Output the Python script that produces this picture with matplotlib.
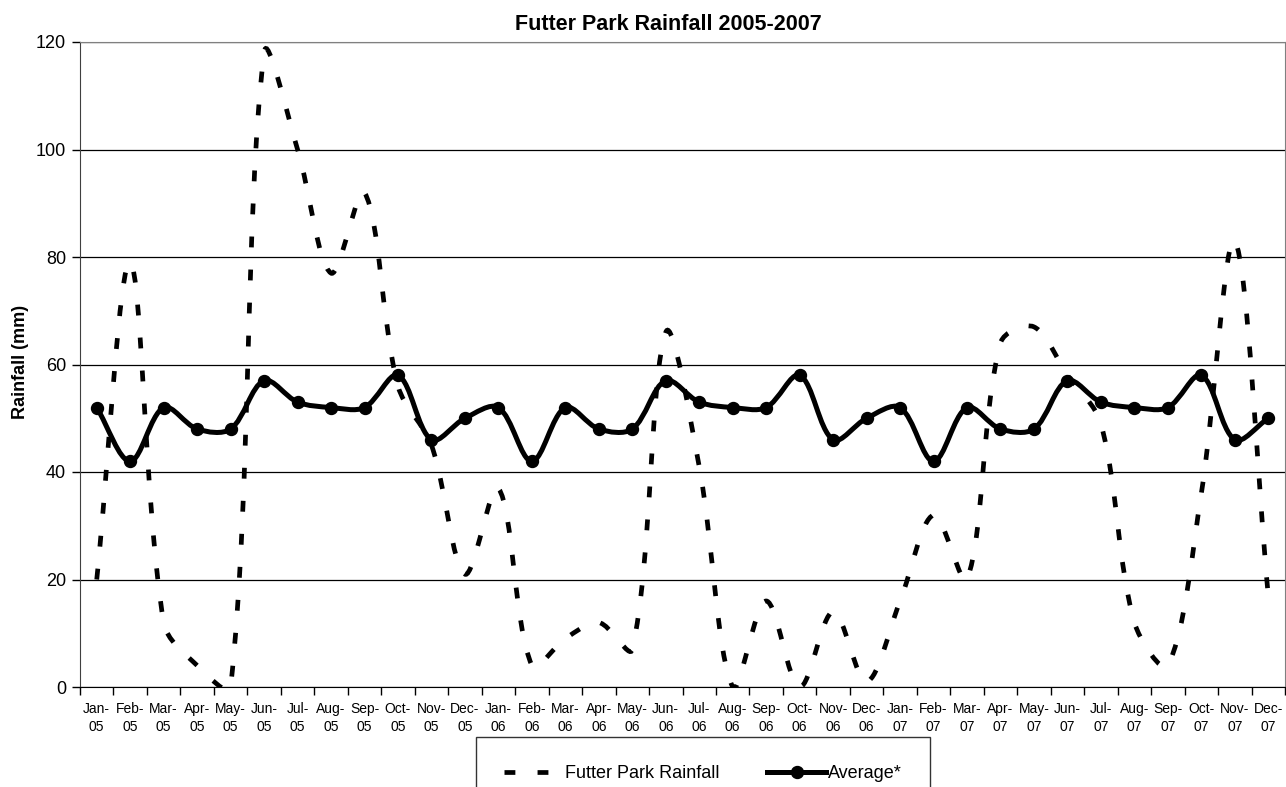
import numpy as np
import matplotlib.pyplot as plt
from matplotlib.path import Path
from matplotlib.patches import PathPatch
from matplotlib.lines import Line2D

# data to plot
months = ['Jan', 'Feb', 'Mar', 'Apr', 'May', 'Jun',
          'Jul', 'Aug', 'Sep', 'Oct', 'Nov', 'Dec']
years = ['05', '06', '07']
rainfall = [20, 79, 12, 4, 0, 118, 100, 77, 92, 56, 45, 21,
            37, 4, 9, 12, 7, 66, 41, 0, 16, 0, 14, 1,
            16, 32, 20, 64, 67, 58, 49, 12, 4, 36, 83, 17]
average = [52, 42, 52, 48, 48, 57, 53, 52, 52, 58, 46, 50,
           52, 42, 52, 48, 48, 57, 53, 52, 52, 58, 46, 50,
           52, 42, 52, 48, 48, 57, 53, 52, 52, 58, 46, 50]
labels = [m + '-\n' + y for y in years for m in months]


def smooth_path(ax, xs, ys):
    # excel style smoothed line: cubic bezier through every point,
    # tangents scaled by chord length in screen space
    pts = ax.transData.transform(np.column_stack([xs, ys]).astype(float))
    n = len(pts)
    verts = [pts[0]]
    codes = [Path.MOVETO]
    for i in range(n - 1):
        p1, p2 = pts[i], pts[i + 1]
        p0 = pts[i - 1] if i > 0 else p1
        p3 = pts[i + 2] if i + 2 < n else p2
        d01 = np.hypot(*(p1 - p0))
        d12 = np.hypot(*(p2 - p1))
        d23 = np.hypot(*(p3 - p2))
        c1 = p1 + (p2 - p0) * d12 / (d01 + d12) / 3
        c2 = p2 - (p3 - p1) * d12 / (d12 + d23) / 3
        verts += [c1, c2, p2]
        codes += [Path.CURVE4] * 3
    verts = ax.transData.inverted().transform(np.array(verts))
    return Path(verts, codes)


plt.rcParams['font.family'] = ['Liberation Sans', 'DejaVu Sans']

fig = plt.figure(figsize=(12.86, 7.87), dpi=100)
ax = fig.add_axes([80 / 1286, 1 - 687 / 787, 1205 / 1286, 645 / 787])
x = np.arange(len(rainfall))
ax.set_xlim(-0.5, len(rainfall) - 0.5)
ax.set_ylim(0, 120)

rain_dash = (0, (2.3, 4.7))
ax.add_patch(PathPatch(smooth_path(ax, x, rainfall), fill=False,
                       color='black', lw=3.4, linestyle=rain_dash,
                       capstyle='butt', zorder=3))
ax.add_patch(PathPatch(smooth_path(ax, x, average), fill=False,
                       color='black', lw=3.6, capstyle='round',
                       joinstyle='round', zorder=4))
ax.plot(x, average, 'o', color='black', ms=8.6, zorder=5)

ax.set_yticks(np.arange(0, 121, 20))
ax.yaxis.grid(True, color='black', lw=0.9)
ax.set_axisbelow(True)
ax.tick_params(axis='y', labelsize=13, length=6, width=1, direction='out', pad=4)

ax.set_xticks(np.arange(-0.5, len(rainfall), 1))
ax.set_xticklabels([])
ax.tick_params(axis='x', which='major', length=6, width=1, direction='out')
ax.set_xticks(x, minor=True)
ax.set_xticklabels(labels, minor=True, fontsize=10,
                   family=['Liberation Sans Narrow', 'Liberation Sans'],
                   linespacing=1.3)
ax.tick_params(axis='x', which='minor', length=0, pad=11)

for side in ['top', 'right']:
    ax.spines[side].set_color('#808080')
ax.spines['left'].set_color('#404040')
ax.spines['bottom'].set_color('black')

fig.text(668 / 1286, 1 - 30 / 787, 'Futter Park Rainfall 2005-2007',
         fontsize=15.5, fontweight='bold', ha='center', va='baseline')
fig.text(21 / 1286, 1 - 362 / 787, 'Rainfall (mm)', fontsize=13,
         fontweight='bold', rotation=90, ha='center', va='center')

handles = [Line2D([], [], color='black', lw=3.4, linestyle=rain_dash,
                  dash_capstyle='butt'),
           Line2D([], [], color='black', lw=3.6, marker='o', ms=8.6)]
leg = fig.legend(handles, ['Futter Park Rainfall', 'Average*'],
                 loc='upper left', bbox_to_anchor=(476 / 1286, 1 - 737 / 787),
                 ncol=2, fontsize=13, frameon=True, fancybox=False,
                 edgecolor='black', handlelength=3.3, handletextpad=0.1,
                 columnspacing=2.6, borderpad=1.55, borderaxespad=0)
leg.get_frame().set_linewidth(1)

plt.savefig('out.png', dpi=100)
